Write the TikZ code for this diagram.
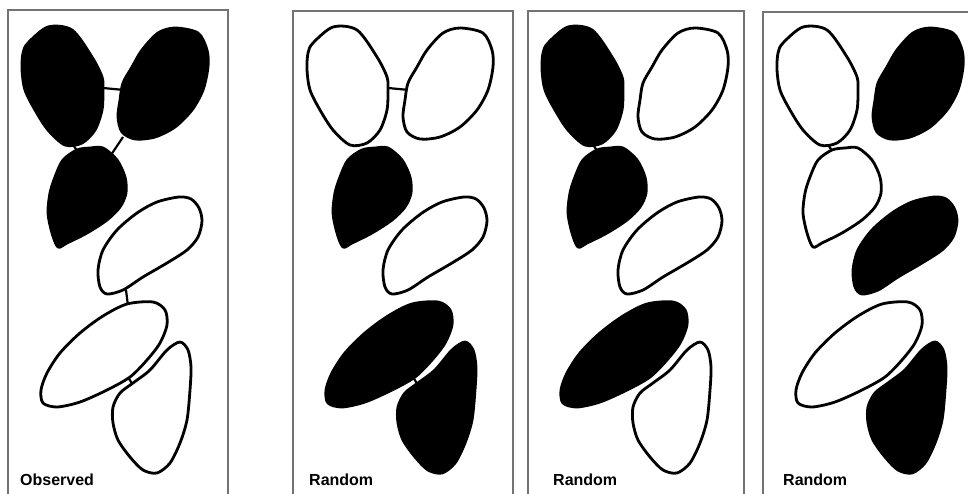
\documentclass[tikz,border=0pt]{standalone}
\usepackage{fontspec}
\setmainfont{Liberation Sans}
\usetikzlibrary{positioning}

\tikzset{
  cell/.style={draw=black,line width=2.8pt,line join=round},
  on/.style={cell,fill=black},
  off/.style={cell,fill=white},
  link/.style={line width=2.2pt},
  frame/.style={draw=black!55,line width=1.2pt},
  tag/.style={anchor=base west,inner sep=0pt,font=\bfseries\fontsize{16}{19}\selectfont}
}

% the six cells sit at the same place in every panel
\newcommand{\cellA}[1]{\draw[#1] plot[smooth cycle] coordinates {(28,43) (48,27) (72,30) (92,57) (102,77) (103,90) (102,110) (95,130) (82,143) (65,145) (48,130) (35,110) (25,90) (22,70) (23,53)};}
\newcommand{\cellB}[1]{\draw[#1] plot[smooth cycle] coordinates {(158,33) (175,28) (198,33) (207,50) (208,67) (203,90) (192,110) (175,127) (155,137) (135,139) (122,132) (118,117) (120,100) (123,83) (132,67) (142,50)};}
\newcommand{\cellC}[1]{\draw[#1] plot[smooth cycle] coordinates {(77,150) (90,148) (103,148) (117,160) (125,177) (126,193) (120,207) (107,220) (87,233) (67,243) (58,247) (52,233) (48,213) (50,193) (55,177) (63,160)};}
\newcommand{\cellD}[1]{\draw[#1] plot[smooth cycle] coordinates {(179,197) (191,199) (199,208) (202,221) (198,237) (187,250) (167,263) (143,277) (123,290) (107,294) (100,287) (98,270) (103,250) (117,230) (137,213) (157,202)};}
\newcommand{\cellE}[1]{\draw[#1] plot[smooth cycle] coordinates {(127,304) (153,302) (165,310) (167,325) (160,343) (147,360) (130,377) (107,390) (80,402) (57,407) (43,403) (41,390) (47,373) (60,353) (80,333) (103,316)};}
\newcommand{\cellF}[1]{\draw[#1] plot[smooth cycle] coordinates {(167,350) (180,342) (188,350) (191,367) (190,390) (187,420) (180,443) (170,463) (157,473) (143,470) (130,457) (118,440) (113,423) (113,407) (120,393) (133,383) (150,370)};}

% end points of the links, one set per panel
\newcommand{\linkpts}[1]{
  \coordinate (#1Ar) at (103,88);  \coordinate (#1Bl) at (124,90);
  \coordinate (#1Ab) at (71,142);  \coordinate (#1Ct) at (78,152);
  \coordinate (#1Bb) at (123,137); \coordinate (#1Cr) at (111,155);
  \coordinate (#1Db) at (126,290); \coordinate (#1Et) at (128,306);
  \coordinate (#1Eb) at (128,377); \coordinate (#1Ft) at (134,387);
}

\begin{document}
\begin{tikzpicture}[x=1pt,y=-1pt]
  \useasboundingbox (0,0) rectangle (968,494);

  % panel frames (open at the bottom)
  \foreach \l/\r/\t in {8/228/10,293/513/11,528/744/11,763/975/12}
    \draw[frame] (\l,500) |- (\r,\t) -- (\r,500);

  % observed
  \begin{scope}
    \linkpts{o}
    \draw[link] (oAr) -- (oBl) (oAb) -- (oCt) (oBb) -- (oCr)
                (oDb) -- (oEt) (oEb) -- (oFt);
    \cellA{on} \cellB{on} \cellC{on}
    \cellD{off} \cellE{off} \cellF{off}
    \node[tag] (obs) at (20,485) {Observed};
  \end{scope}

  % random 1
  \begin{scope}[xshift=285pt]
    \linkpts{r}
    \draw[link] (rAr) -- (rBl) (rEb) -- (rFt);
    \cellA{off} \cellB{off} \cellC{on}
    \cellD{off} \cellE{on} \cellF{on}
    \node[tag] (rnd1) at (24,485) {Random};
  \end{scope}

  % random 2
  \begin{scope}[xshift=520pt]
    \linkpts{s}
    \draw[link] (sAb) -- (sCt);
    \cellA{on} \cellB{off} \cellC{on}
    \cellD{off} \cellE{on} \cellF{off}
    \node[tag] (rnd2) at (33,485) {Random};
  \end{scope}

  % random 3
  \begin{scope}[xshift=755pt]
    \linkpts{t}
    \draw[link] (tAb) -- (tCt);
    \cellA{off} \cellB{on} \cellC{off}
    \cellD{on} \cellE{off} \cellF{on}
    \node[tag] (rnd3) at (28,485) {Random};
  \end{scope}
\end{tikzpicture}
\end{document}
